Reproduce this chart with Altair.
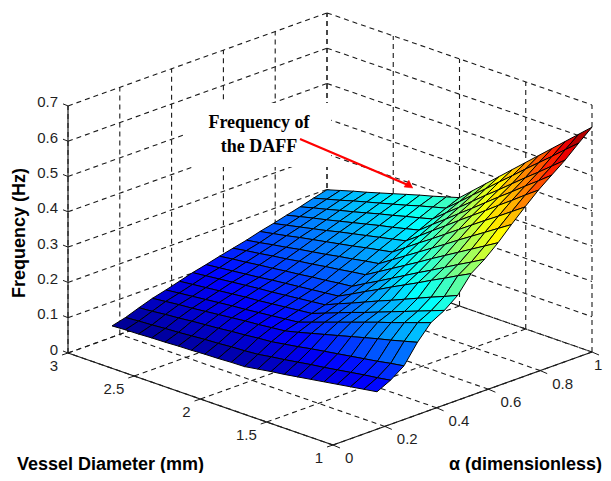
import altair as alt
import pandas as pd

# ---- values ----
alpha_nodes = [.170,.222,.274,.326,.378,.430,.481,.533,.585,.637,.689,.741,.793,.844,.896,.948,1.0]
diameter_nodes = [3.0,2.9,2.8,2.7,2.6,2.5,2.4,2.3,2.2,2.1,2.0,1.9,1.8,1.7,1.6,1.5,1.4,1.3,1.2,1.1,1.0]
freq_d30 = [.032,.042,.056,.069,.079,.090,.101,.110,.120,.129,.138,.149,.158,.168,.178,.189,.199]
freq_d29 = [.034,.045,.059,.073,.083,.094,.105,.114,.125,.135,.144,.156,.166,.177,.188,.199,.210]
freq_d28 = [.035,.047,.063,.077,.087,.098,.109,.118,.129,.140,.151,.163,.174,.186,.197,.209,.221]
freq_d27 = [.037,.050,.066,.080,.091,.102,.113,.122,.134,.146,.157,.171,.182,.194,.207,.220,.231]
freq_d26 = [.038,.052,.070,.084,.095,.106,.117,.126,.138,.151,.164,.178,.190,.203,.216,.230,.242]
freq_d25 = [.040,.055,.073,.088,.099,.110,.121,.131,.143,.157,.170,.185,.199,.212,.226,.240,.253]
freq_d24 = [.041,.058,.076,.092,.102,.113,.124,.135,.147,.162,.176,.192,.207,.221,.236,.250,.264]
freq_d23 = [.043,.060,.080,.096,.106,.117,.128,.139,.152,.168,.183,.199,.215,.230,.245,.260,.275]
freq_d22 = [.044,.063,.083,.099,.110,.121,.132,.143,.156,.173,.189,.207,.223,.238,.255,.271,.285]
freq_d21 = [.046,.065,.087,.103,.114,.125,.136,.147,.161,.179,.196,.214,.231,.247,.264,.281,.296]
freq_d20 = [.047,.068,.090,.107,.118,.129,.140,.151,.165,.184,.202,.221,.239,.256,.274,.291,.307]
freq_d19 = [.053,.074,.096,.116,.131,.143,.156,.170,.186,.206,.226,.247,.266,.285,.304,.322,.340]
freq_d18 = [.059,.079,.102,.126,.144,.157,.171,.190,.206,.228,.250,.273,.294,.313,.333,.354,.373]
freq_d17 = [.064,.085,.109,.136,.157,.171,.187,.209,.227,.250,.274,.298,.321,.342,.363,.385,.406]
freq_d16 = [.070,.091,.115,.146,.170,.184,.203,.229,.248,.272,.298,.324,.349,.370,.393,.417,.439]
freq_d15 = [.076,.096,.121,.156,.183,.198,.218,.248,.269,.295,.322,.350,.376,.399,.422,.448,.472]
freq_d14 = [.082,.102,.127,.166,.196,.212,.234,.267,.289,.317,.347,.376,.403,.428,.452,.480,.505]
freq_d13 = [.088,.108,.133,.176,.208,.226,.250,.287,.310,.339,.371,.402,.431,.456,.482,.511,.538]
freq_d12 = [.094,.114,.139,.185,.221,.240,.266,.306,.331,.361,.395,.427,.458,.485,.511,.542,.571]
freq_d11 = [.100,.119,.146,.195,.234,.254,.281,.326,.351,.383,.419,.453,.486,.513,.541,.574,.604]
freq_d10 = [.106,.125,.152,.205,.247,.268,.297,.345,.372,.405,.443,.479,.513,.542,.571,.605,.637]
freq_rows = [freq_d30,freq_d29,freq_d28,freq_d27,freq_d26,freq_d25,freq_d24,freq_d23,freq_d22,freq_d21,
             freq_d20,freq_d19,freq_d18,freq_d17,freq_d16,freq_d15,freq_d14,freq_d13,freq_d12,freq_d11,freq_d10]

alpha_ticks = [0, .2, .4, .6, .8, 1]
alpha_labels = ["0", "0.2", "0.4", "0.6", "0.8", "1"]
diameter_ticks = [3, 2.5, 2, 1.5, 1]
diameter_labels = ["3", "2.5", "2", "1.5", "1"]
freq_ticks = [0, .1, .2, .3, .4, .5, .6, .7]
freq_labels = ["0", "0.1", "0.2", "0.3", "0.4", "0.5", "0.6", "0.7"]

# ---- view of the 3-D box (orthographic, in page pixels) ----
def px(a, d):
    return 333 - 132.5 * (d - 1) + 259 * a

def py(a, d, f):
    return 445 - 46 * (d - 1) - 93 * a - 353 * f

X = alt.X("x:Q", scale=alt.Scale(domain=[8, 603], nice=False, zero=False), axis=None)
Y = alt.Y("y:Q", scale=alt.Scale(domain=[473, 8], nice=False, zero=False), axis=None)

def seg(a0, d0, f0, a1, d1, f1):
    return {"x": px(a0, d0), "y": py(a0, d0, f0), "x2": px(a1, d1), "y2": py(a1, d1, f1)}

def rules(segs, **kw):
    return alt.Chart(pd.DataFrame(segs)).mark_rule(**kw).encode(
        x=X, y=Y, x2="x2:Q", y2="y2:Q")

# ---- grid on the walls and the floor ----
FT = freq_ticks[-1]
grid = []
for a in alpha_ticks:
    grid.append(seg(a, 3, 0, a, 3, FT))
    grid.append(seg(a, 1, 0, a, 3, 0))
for d in diameter_ticks:
    grid.append(seg(1, d, 0, 1, d, FT))
    grid.append(seg(0, d, 0, 1, d, 0))
for f in freq_ticks:
    grid.append(seg(0, 3, f, 1, 3, f))
    grid.append(seg(1, 3, f, 1, 1, f))
grid_layer = rules(grid, color="#1a1a1a", strokeWidth=1.1, strokeDash=[5, 4])

# ---- axis lines and ticks ----
axes = [seg(0, 3, 0, 0, 1, 0), seg(0, 1, 0, 1, 1, 0), seg(0, 3, 0, 0, 3, FT)]
axis_layer = rules(axes, color="#1a1a1a", strokeWidth=1.2)

ticks = []
for f in freq_ticks:
    ticks.append({"x": px(0, 3) - 5, "y": py(0, 3, f) - 2, "x2": px(0, 3), "y2": py(0, 3, f)})
for d in diameter_ticks:
    ticks.append({"x": px(0, d) - 6, "y": py(0, d, 0) + 2, "x2": px(0, d), "y2": py(0, d, 0)})
for a in alpha_ticks:
    ticks.append({"x": px(a, 1) + 7, "y": py(a, 1, 0) + 3, "x2": px(a, 1), "y2": py(a, 1, 0)})
tick_layer = rules(ticks, color="#1a1a1a", strokeWidth=1)

# ---- surface cells, painted from the far corner to the near one ----
na, nd = len(alpha_nodes), len(diameter_nodes)
cells = []
for i in range(nd - 1):
    for j in range(na - 1):
        depth = alpha_nodes[j] + (diameter_nodes[i] - 1) / 2
        cells.append((depth, i, j))
cells.sort(key=lambda c: -c[0])
rows = []
for n, (_, i, j) in enumerate(cells):
    corners = [(i, j), (i, j + 1), (i + 1, j + 1), (i + 1, j)]
    level = sum(freq_rows[r][c] for r, c in corners) / 4
    for k, (r, c) in enumerate(corners + corners[:1]):
        a, d, f = alpha_nodes[c], diameter_nodes[r], freq_rows[r][c]
        rows.append({"cell": n, "k": k, "x": px(a, d), "y": py(a, d, f), "level": level})
jet_domain = [.032, .108, .259, .410, .561, .637]
jet_range = ["#00008f", "#0000ff", "#00ffff", "#ffff00", "#ff0000", "#800000"]
surface = alt.Chart(pd.DataFrame(rows)).mark_line(
    stroke="black", strokeWidth=1, strokeJoin="round"
).encode(
    x=X, y=Y, detail="cell:N", order="k:Q",
    fill=alt.Fill("level:Q", scale=alt.Scale(domain=jet_domain, range=jet_range, interpolate="rgb"), legend=None),
)

# ---- annotation ----
note_box = alt.Chart(pd.DataFrame([{"x": 185, "x2": 331, "y": 103, "y2": 167}])).mark_rect(
    color="white").encode(x=X, y=Y, x2="x2:Q", y2="y2:Q")
arrow_line = rules([{"x": 300, "y": 139, "x2": 408, "y2": 185}], color="#ff0000", strokeWidth=2.2)
arrow_head = alt.Chart(pd.DataFrame([
    {"cell": 0, "k": 0, "x": 413, "y": 188},
    {"cell": 0, "k": 1, "x": 404, "y": 187},
    {"cell": 0, "k": 2, "x": 409, "y": 180},
])).mark_line(stroke="#ff0000", strokeWidth=0.5, fill="#ff0000").encode(
    x=X, y=Y, detail="cell:N", order="k:Q")

def text_layer(items, **kw):
    return alt.Chart(pd.DataFrame(items)).mark_text(baseline="middle", **kw).encode(
        x=X, y=Y, text="t:N")

sans = "Liberation Sans"
serif = "Liberation Serif"
ink = "#1f1f1f"
z_text = text_layer(
    [{"x": 58, "y": py(0, 3, f) - 3.5, "t": t} for f, t in zip(freq_ticks, freq_labels)],
    align="right", font=sans, fontSize=15, color=ink)
d_text = text_layer(
    [{"x": px(0, d) - 10, "y": py(0, d, 0) + 13, "t": t} for d, t in zip(diameter_ticks, diameter_labels)],
    align="right", font=sans, fontSize=15, color=ink)
a_text = text_layer(
    [{"x": min(px(a, 1) + 12, 594), "y": py(a, 1, 0) + 13, "t": t} for a, t in zip(alpha_ticks, alpha_labels)],
    align="left", font=sans, fontSize=15, color=ink)
title_d = text_layer([{"x": 17, "y": 465, "t": "Vessel Diameter (mm)"}], align="left", font=sans,
                     fontSize=18, fontWeight="bold", color="black")
title_a = text_layer([{"x": 602, "y": 465, "t": "α (dimensionless)"}], align="right", font=sans,
                     fontSize=18, fontWeight="bold", color="black")
title_f = text_layer([{"x": 20, "y": 233, "t": "Frequency (Hz)"}], align="center", font=sans,
                     fontSize=18, fontWeight="bold", color="black", angle=270)
note = text_layer([{"x": 259, "y": 123, "t": "Frequency of"}, {"x": 259, "y": 147, "t": "the DAFF"}],
                  align="center", font=serif, fontSize=18, fontWeight="bold", color="black")

chart = alt.layer(
    grid_layer, axis_layer, tick_layer, surface, note_box, arrow_line, arrow_head,
    z_text, d_text, a_text, title_d, title_a, title_f, note,
).properties(
    width=595, height=465, padding=0, background="white",
    autosize=alt.AutoSizeParams(type="none"),
).configure_view(stroke=None)

chart.save("out.html", embed_options={"renderer": "svg", "actions": False})
